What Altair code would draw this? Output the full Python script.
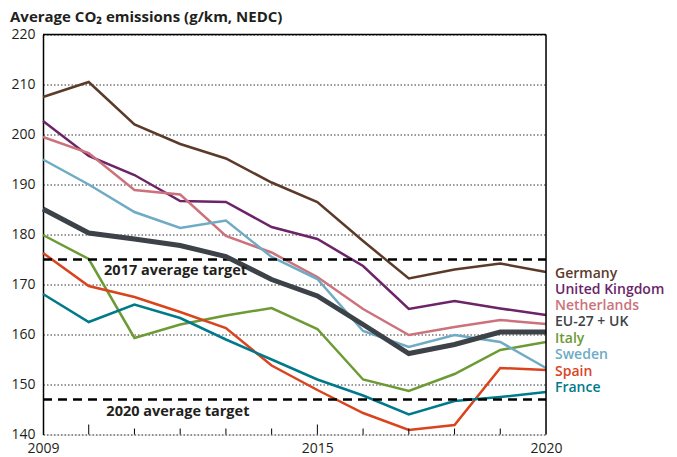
import altair as alt
import pandas as pd

years = list(range(2009, 2021))
germany = [207.5, 210.5, 202.0, 198.1, 195.2, 190.4, 186.5, 178.7, 171.2, 173.0, 174.2, 172.5]
uk = [202.7, 195.7, 191.9, 186.7, 186.5, 181.5, 179.1, 173.7, 165.1, 166.7, 165.2, 163.9]
netherlands = [199.5, 196.3, 188.9, 188.0, 179.7, 176.4, 171.5, 165.1, 159.9, 161.5, 162.9, 162.1]
eu = [185.1, 180.3, 179.1, 177.8, 175.6, 171.0, 167.7, 162.0, 156.2, 158.0, 160.5, 160.5]
italy = [179.9, 175.1, 159.3, 162.0, 163.8, 165.3, 161.1, 151.0, 148.7, 152.1, 156.9, 158.5]
sweden = [195.0, 190.0, 184.5, 181.3, 182.8, 175.5, 171.1, 160.7, 157.5, 159.9, 158.5, 153.3]
spain = [176.3, 169.7, 167.5, 164.5, 161.3, 153.8, 148.9, 144.3, 140.9, 141.9, 153.3, 152.9]
france = [168.1, 162.5, 166.0, 163.3, 159.0, 155.0, 151.0, 147.8, 144.0, 146.7, 147.5, 148.5]

series_names = ["Germany", "United Kingdom", "Netherlands", "EU-27 + UK",
                "Italy", "Sweden", "Spain", "France"]
series_values = [germany, uk, netherlands, eu, italy, sweden, spain, france]
series_colors = ["#5b3a2a", "#6b2468", "#cc727c", "#3d4249",
                 "#6c9a34", "#6eabc4", "#d9441d", "#007a8b"]
label_y = [172.2, 169.0, 165.7, 162.5, 159.2, 155.9, 152.6, 149.3]

targets = [175, 147]
target_labels = ["2017 average target", "2020 average target"]
target_label_y = [172.7, 144.6]
target_label_x = [2011.9, 2011.95]

y_ticks = [140, 150, 160, 170, 180, 190, 200, 210, 220]
x_labels = [2009, 2015, 2020]
minor_tick_years = [2011, 2012, 2013, 2014, 2016, 2017, 2018, 2019]
major_tick_years = [2010, 2015]

FONT = "Open Sans"

rows = []
for name, vals in zip(series_names, series_values):
    for yr, v in zip(years, vals):
        rows.append({"year": yr, "value": v, "series": name})
df = pd.DataFrame(rows)

color_scale = alt.Scale(domain=series_names, range=series_colors)
xs = alt.Scale(domain=[2009, 2020], nice=False, zero=False)
ys = alt.Scale(domain=[140, 220], nice=False, zero=False)

x_axis = alt.Axis(values=x_labels, format="d", grid=False, domain=False,
                  ticks=False, labelPadding=7, labelFontSize=14, labelFlush=False,
                  labelColor="#231f20", labelFont=FONT, title=None)
y_axis = alt.Axis(values=y_ticks, grid=True, gridDash=[1.5, 2],
                  gridColor="#333333", gridWidth=1, domain=True,
                  domainColor="#000000", domainWidth=1.5, ticks=False,
                  labelPadding=8, labelFontSize=14, labelColor="#231f20",
                  labelFont=FONT, title=None)


def X(field):
    return alt.X(field, type="quantitative", scale=xs, axis=x_axis, title=None)


def Y(field):
    return alt.Y(field, type="quantitative", scale=ys, axis=y_axis, title=None)


base_lines = alt.Chart(df[df.series != "EU-27 + UK"]).mark_line(strokeWidth=2.5).encode(
    x=X("year"), y=Y("value"),
    color=alt.Color("series:N", scale=color_scale, legend=None),
    detail="series:N",
)
eu_line = alt.Chart(df[df.series == "EU-27 + UK"]).mark_line(strokeWidth=5).encode(
    x=X("year"), y=Y("value"),
    color=alt.Color("series:N", scale=color_scale, legend=None),
)

tdf = pd.DataFrame({"t": targets, "x0": [2009, 2009], "x1": [2020, 2020]})
target_rules = alt.Chart(tdf).mark_rule(color="#000000", strokeWidth=2.5,
                                         strokeDash=[9, 6]).encode(
    x=X("x0"), x2="x1:Q", y=Y("t"),
)

tl = pd.DataFrame({"label": target_labels, "x": target_label_x, "y": target_label_y})
target_text = alt.Chart(tl).mark_text(font=FONT, fontSize=14.5, fontWeight="bold",
                                      color="#231f20", baseline="middle",
                                      align="center").encode(
    x=X("x"), y=Y("y"), text="label:N",
)

ldf = pd.DataFrame({"series": series_names, "y": label_y, "x": [2020] * len(series_names)})
end_labels = alt.Chart(ldf).mark_text(font=FONT, fontSize=14, fontWeight=600,
                                      align="left", baseline="middle", dx=9).encode(
    x=X("x"), y=Y("y"), text="series:N",
    color=alt.Color("series:N", scale=color_scale, legend=None),
)

minor = pd.DataFrame({"x": minor_tick_years, "y0": [140] * len(minor_tick_years),
                      "y1": [141.2] * len(minor_tick_years)})
major = pd.DataFrame({"x": major_tick_years, "y0": [140] * len(major_tick_years),
                      "y1": [142.0] * len(major_tick_years)})
minor_ticks = alt.Chart(minor).mark_rule(color="#000000", strokeWidth=1).encode(
    x=X("x"), y=Y("y0"), y2="y1:Q",
)
major_ticks = alt.Chart(major).mark_rule(color="#000000", strokeWidth=1).encode(
    x=X("x"), y=Y("y0"), y2="y1:Q",
)

fr = pd.DataFrame({"x0": [2009], "x1": [2020], "y0": [140], "y1": [220]})
frame_top = alt.Chart(fr).mark_rule(color="#000000", strokeWidth=1.5).encode(
    x=X("x0"), x2="x1:Q", y=Y("y1"),
)
frame_right = alt.Chart(fr).mark_rule(color="#000000", strokeWidth=1.5).encode(
    x=X("x1"), y=Y("y0"), y2="y1:Q",
)

chart = alt.layer(
    base_lines, target_rules, eu_line, target_text, end_labels,
    minor_ticks, major_ticks, frame_top, frame_right,
).properties(
    width=503, height=400,
    title=alt.TitleParams("Average CO₂ emissions (g/km, NEDC)", anchor="start",
                          frame="group", dx=-33, offset=3, fontSize=15,
                          fontWeight="bold", font=FONT, color="#231f20"),
    autosize=alt.AutoSizeParams(type="none"),
    padding={"left": 35, "top": 26.5, "right": 118, "bottom": 22},
).configure_view(stroke=None).configure(background="white")

chart.save("out.html", embed_options={"renderer": "svg", "actions": False})
